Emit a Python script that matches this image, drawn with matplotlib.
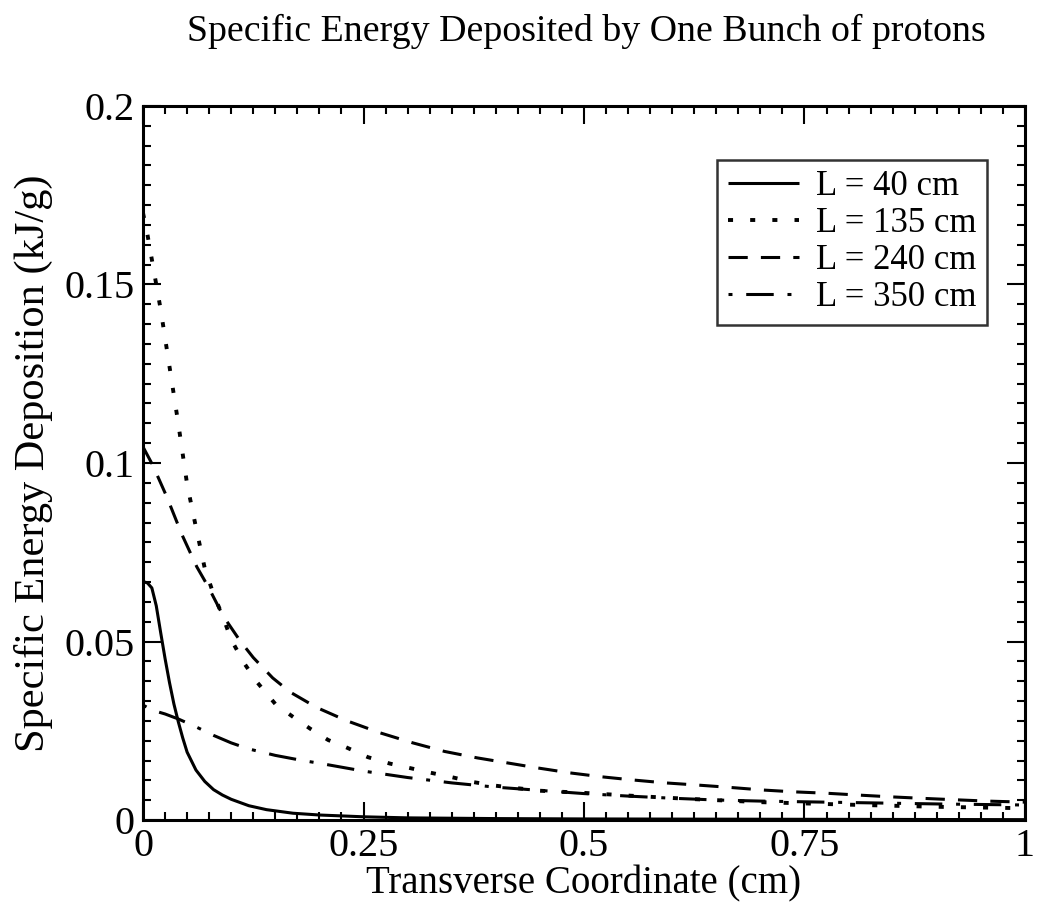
"""
Specific energy deposited by one bunch of protons,
for four distances L along the target.
"""

import matplotlib
matplotlib.use("Agg")

import matplotlib.pyplot as plt
from matplotlib.ticker import AutoMinorLocator, FixedLocator


# --------------------------------------------------------
# Data
# --------------------------------------------------------

x_40 = [0, 0.005, 0.01, 0.015, 0.02, 0.025, 0.03, 0.035, 0.04, 0.045,
        0.05, 0.06, 0.07, 0.08, 0.09, 0.1, 0.12, 0.14, 0.17, 0.2,
        0.25, 0.3, 0.4, 0.5, 0.75, 1.0]
y_40 = [0.0668, 0.0664, 0.0650, 0.0600, 0.0525, 0.0452, 0.0385, 0.0325, 0.0275, 0.0230,
        0.0190, 0.0140, 0.0108, 0.0085, 0.0070, 0.0058, 0.0040, 0.0029, 0.0019, 0.0014,
        0.0009, 0.0006, 0.0004, 0.0003, 0.0002, 0.0001]

x_135 = [0, 0.005, 0.01, 0.015, 0.02, 0.025, 0.03, 0.035, 0.04, 0.045,
         0.05, 0.06, 0.07, 0.08, 0.09, 0.1, 0.115, 0.13, 0.15, 0.17,
         0.19, 0.21, 0.23, 0.255, 0.28, 0.3, 0.325, 0.35, 0.375, 0.4,
         0.45, 0.5, 0.56, 0.62, 0.7, 0.8, 0.9, 1.0]
y_135 = [0.170, 0.164, 0.157, 0.150, 0.143, 0.135, 0.127, 0.119, 0.111, 0.1025,
         0.094, 0.082, 0.0705, 0.0632, 0.0573, 0.0505, 0.0438, 0.0384, 0.0325, 0.0289,
         0.0255, 0.0224, 0.0204, 0.0176, 0.0158, 0.0147, 0.0133, 0.0120, 0.0106, 0.0096,
         0.0082, 0.0076, 0.0067, 0.0059, 0.0050, 0.0043, 0.0037, 0.0033]

x_240 = [0, 0.011, 0.027, 0.044, 0.061, 0.074, 0.091, 0.11, 0.125, 0.147,
         0.167, 0.197, 0.231, 0.269, 0.306, 0.342, 0.379, 0.413, 0.447, 0.484,
         0.52, 0.556, 0.592, 0.628, 0.662, 0.703, 0.737, 0.775, 0.81, 0.847,
         0.881, 0.918, 0.957, 1.0]
y_240 = [0.1045, 0.0994, 0.0905, 0.0800, 0.0709, 0.0653, 0.0571, 0.0502, 0.0455, 0.0398,
         0.0358, 0.0315, 0.0278, 0.0244, 0.0216, 0.0192, 0.0174, 0.0160, 0.0146, 0.0132,
         0.0121, 0.0112, 0.0104, 0.0098, 0.0092, 0.0084, 0.0079, 0.0075, 0.0070, 0.0065,
         0.0061, 0.0057, 0.0053, 0.0050]

x_350 = [0, 0.01, 0.025, 0.04, 0.06, 0.08, 0.1, 0.12, 0.15, 0.18,
         0.2, 0.25, 0.3, 0.35, 0.4, 0.45, 0.5, 0.55, 0.6, 0.65,
         0.7, 0.8, 0.9, 1.0]
y_350 = [0.0322, 0.0308, 0.0297, 0.0283, 0.0261, 0.0237, 0.0216, 0.0199, 0.0181, 0.0167,
         0.0159, 0.0137, 0.0119, 0.0104, 0.0092, 0.0083, 0.0074, 0.0067, 0.0061, 0.0056,
         0.0053, 0.0049, 0.0045, 0.0042]

labels = ["L = 40 cm", "L = 135 cm", "L = 240 cm", "L = 350 cm"]

x_ticks = [0, 0.25, 0.5, 0.75, 1]
x_tick_labels = ["0", "0.25", "0.5", "0.75", "1"]

y_ticks = [0, 0.05, 0.1, 0.15, 0.2]
y_tick_labels = ["0", "0.05", "0.1", "0.15", "0.2"]


# --------------------------------------------------------
# Style
# --------------------------------------------------------

plt.rcParams["font.family"] = ["Liberation Serif", "DejaVu Serif"]

widths = [2.2, 2.8, 2.2, 2.2]

styles = [
    (0, ()),
    (0, (1.3, 4.4)),
    (0, (6.3, 4.3)),
    (0, (1.3, 4.5, 9.0, 4.5)),
]


# --------------------------------------------------------
# Figure
# --------------------------------------------------------

fig = plt.figure(figsize=(10.41, 9.09), dpi=100)

ax = fig.add_axes([0.1374, 0.0979, 0.8472, 0.7855])

series = [(x_40, y_40), (x_135, y_135), (x_240, y_240), (x_350, y_350)]

for (xs, ys), ls, lw, lab in zip(series, styles, widths, labels):

    ax.plot(
        xs,
        ys,
        color="black",
        linewidth=lw,
        linestyle=ls,
        label=lab,
    )

ax.set_xlim(0, 1)
ax.set_ylim(0, 0.2)

ax.xaxis.set_major_locator(FixedLocator(x_ticks))
ax.set_xticklabels(x_tick_labels)
ax.yaxis.set_major_locator(FixedLocator(y_ticks))
ax.set_yticklabels(y_tick_labels)

ax.xaxis.set_minor_locator(AutoMinorLocator(10))
ax.yaxis.set_minor_locator(AutoMinorLocator(9))

ax.tick_params(
    which="both",
    direction="in",
    top=True,
    right=True,
    width=1.5,
    labelsize=29,
    pad=6,
)
ax.tick_params(which="major", length=13)
ax.tick_params(which="minor", length=6)

for sp in ax.spines.values():
    sp.set_linewidth(2.2)

ax.set_xlabel("Transverse Coordinate (cm)", fontsize=28, labelpad=0)
ax.set_ylabel("Specific Energy Deposition (kJ/g)", fontsize=30.5, labelpad=8)

fig.text(0.563, 0.965, "Specific Energy Deposited by One Bunch of protons",
         fontsize=27.3, ha="center", va="center")

leg = ax.legend(
    loc="upper right",
    bbox_to_anchor=(0.957, 0.925),
    fontsize=25,
    frameon=True,
    fancybox=False,
    edgecolor="black",
    handlelength=2.05,
    handletextpad=0.5,
    labelspacing=0.12,
    borderpad=0.3,
    borderaxespad=0.0,
)
leg.get_frame().set_linewidth(1.8)

fig.savefig("out.png", dpi=100)
